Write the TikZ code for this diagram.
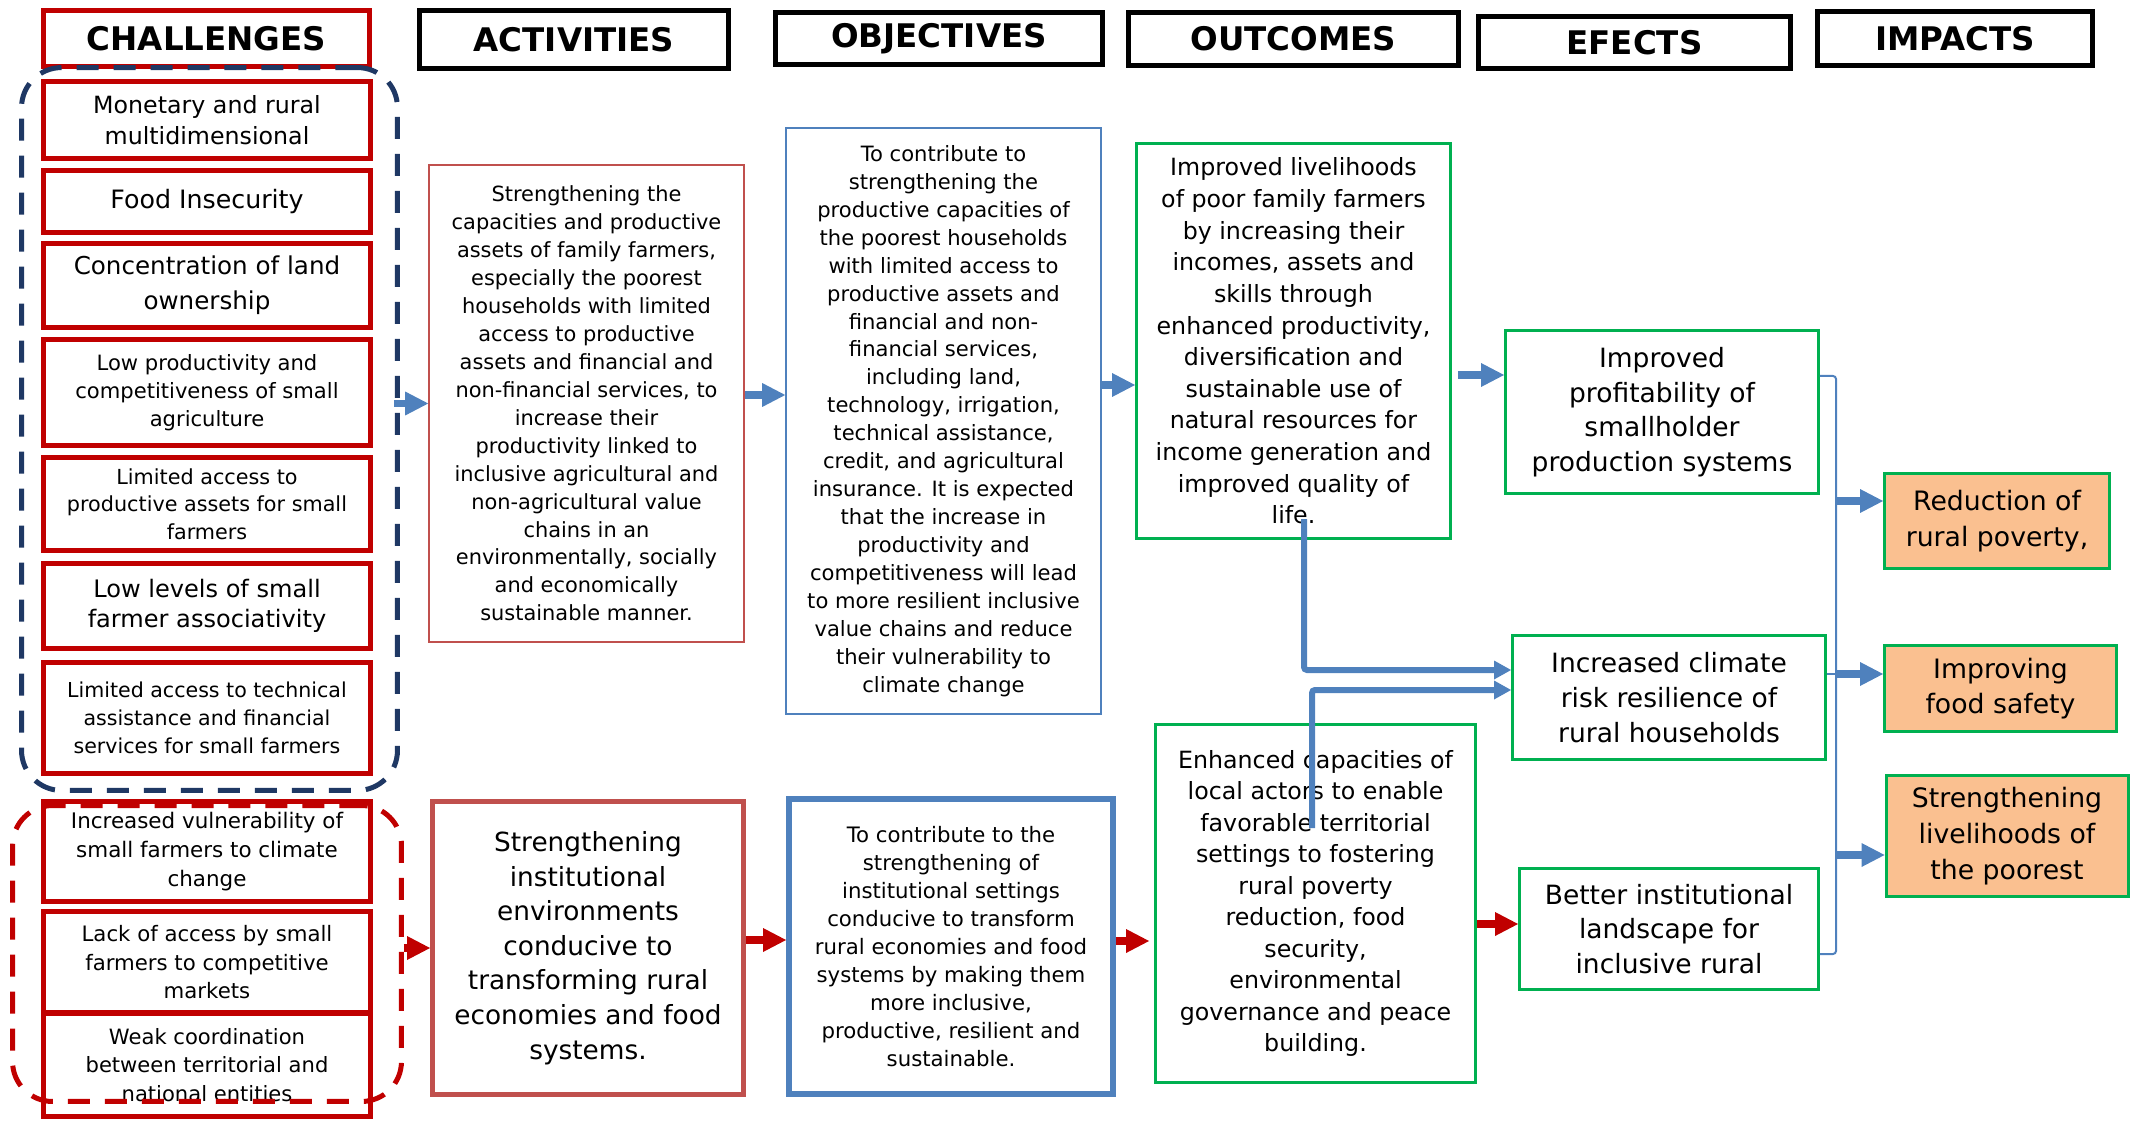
\documentclass[tikz,border=0pt]{standalone}
\usepackage{fontspec}
\setmainfont{DejaVu Sans}
\usepackage{tikz}
\usetikzlibrary{arrows.meta}
\definecolor{cRed}{HTML}{C00000}
\definecolor{cRedL}{HTML}{C0504D}
\definecolor{cBlue}{HTML}{4F81BD}
\definecolor{cNavy}{HTML}{1F3864}
\definecolor{cGreen}{HTML}{00B050}
\definecolor{cOrange}{HTML}{FAC090}

\begin{document}
\begin{tikzpicture}[x=0.02cm, y=-0.02cm,
    every node/.style={inner sep=0pt, align=center},
    hdr/.style={draw=black, line width=0.1cm, font=\fontsize{18.5}{22}\selectfont\bfseries},
    chal/.style={draw=cRed, line width=0.1cm, minimum width=6.54cm},
    grp/.style={line width=0.1cm, rounded corners=0.8cm, dash pattern=on 0.44cm off 0.3cm},
    effbox/.style={draw=cGreen, line width=0.05cm, font=\fontsize{15.1}{19.7}\selectfont},
    impbox/.style={draw=cGreen, line width=0.06cm, fill=cOrange, font=\fontsize{15.2}{20.3}\selectfont},
    barrow/.style={draw=cBlue, line width=0.16cm, -{Triangle[length=0.46cm, width=0.48cm, line width=0pt]}},
    rarrow/.style={draw=cRed, line width=0.16cm, -{Triangle[length=0.46cm, width=0.48cm, line width=0pt]}},
    link/.style={draw=cBlue, line width=0.12cm, rounded corners=0.06cm, -{Triangle[length=0.34cm, width=0.38cm, line width=0pt]}},
    busline/.style={draw=cBlue, line width=0.04cm, rounded corners=0.06cm}]
  \useasboundingbox (0,0) rectangle (2135,1121);

  % Encabezados
  \node[hdr, draw=cRed, minimum width=6.52cm, minimum height=1.12cm] (hChal) at (206.5,38.5) {CHALLENGES};
  \node[hdr, minimum width=6.18cm, minimum height=1.16cm] (hAct) at (574,39.5) {ACTIVITIES};
  \node[hdr, minimum width=6.54cm, minimum height=1.04cm] (hObj) at (939,38.5) {OBJECTIVES};
  \node[hdr, minimum width=6.6cm, minimum height=1.06cm] (hOut) at (1293.5,39) {OUTCOMES};
  \node[hdr, minimum width=6.24cm, minimum height=1.04cm] (hEff) at (1634.5,42.5) {EFECTS};
  \node[hdr, minimum width=5.5cm, minimum height=1.08cm] (hImp) at (1955,38.5) {IMPACTS};

  % Retos
  \node[chal, minimum height=1.54cm, font=\fontsize{13.5}{17.7}\selectfont] (c1) at (207,120) {Monetary and rural\\multidimensional};
  \node[chal, minimum height=1.24cm, font=\fontsize{14.4}{18}\selectfont] (c2) at (207,201.5) {Food Insecurity};
  \node[chal, minimum height=1.68cm, font=\fontsize{14}{19.9}\selectfont] (c3) at (207,285.5) {Concentration of land\\ownership};
  \node[chal, minimum height=2.12cm, font=\fontsize{12}{15.9}\selectfont] (c4) at (207,392.5) {Low productivity and\\competitiveness of small\\agriculture};
  \node[chal, minimum height=1.86cm, font=\fontsize{11.8}{15.7}\selectfont] (c5) at (207,504) {Limited access to\\productive assets for small\\farmers};
  \node[chal, minimum height=1.70cm, font=\fontsize{13.7}{17.3}\selectfont] (c6) at (207,606) {Low levels of small\\farmer associativity};
  \node[chal, minimum height=2.22cm, font=\fontsize{11.7}{15.9}\selectfont] (c7) at (207,718) {Limited access to technical\\assistance and financial\\services for small farmers};
  \node[chal, minimum height=2.0cm, font=\fontsize{12.2}{16.3}\selectfont] (c8) at (207,851.5) {Increased vulnerability of\\small farmers to climate\\change};
  \node[chal, minimum height=2.03cm, font=\fontsize{12.1}{16.3}\selectfont] (c9) at (207,962.25) {Lack of access by small\\farmers to competitive\\markets};
  \node[chal, minimum height=2.07cm, font=\fontsize{12}{16.2}\selectfont] (c10) at (207,1064.75) {Weak coordination\\between territorial and\\national entities};
  \node[grp, draw=cNavy, minimum width=7.52cm, minimum height=14.46cm] (grpA) at (209.5,429) {};
  \node[grp, draw=cRed, minimum width=7.78cm, minimum height=5.92cm] (grpB) at (207,953.5) {};

  % Cajas
  \node[draw=cRedL, line width=0.035cm, minimum width=6.3cm, minimum height=9.55cm, font=\fontsize{11.9}{15.9}\selectfont] (act1) at (586.5,403.5)
    {Strengthening the\\capacities and productive\\assets of family farmers,\\especially the poorest\\households with limited\\access to productive\\assets and financial and\\non-financial services, to\\increase their\\productivity linked to\\inclusive agricultural and\\non-agricultural value\\chains in an\\environmentally, socially\\and economically\\sustainable manner.};
  \node[draw=cBlue, line width=0.035cm, minimum width=6.3cm, minimum height=11.72cm, font=\fontsize{12}{15.9}\selectfont] (obj1) at (943.5,421)
    {To contribute to\\strengthening the\\productive capacities of\\the poorest households\\with limited access to\\productive assets and\\financial and non-\\financial services,\\including land,\\technology, irrigation,\\technical assistance,\\credit, and agricultural\\insurance. It is expected\\that the increase in\\productivity and\\competitiveness will lead\\to more resilient inclusive\\value chains and reduce\\their vulnerability to\\climate change};
  \node[draw=cGreen, line width=0.05cm, minimum width=6.29cm, minimum height=7.91cm, font=\fontsize{13.5}{18}\selectfont] (out1) at (1293.5,341)
    {Improved livelihoods\\of poor family farmers\\by increasing their\\incomes, assets and\\skills through\\enhanced productivity,\\diversification and\\sustainable use of\\natural resources for\\income generation and\\improved quality of\\life.};
  \node[effbox, minimum width=6.27cm, minimum height=3.27cm] (eff1) at (1662,412) {Improved\\profitability of\\smallholder\\production systems};
  \node[effbox, minimum width=6.27cm, minimum height=2.49cm] (eff2) at (1669,697.5) {Increased climate\\risk resilience of\\rural households};
  \node[effbox, minimum width=5.99cm, minimum height=2.43cm] (eff3) at (1669,929) {Better institutional\\landscape for\\inclusive rural};
  \node[impbox, minimum width=4.5cm, minimum height=1.9cm] (imp1) at (1997,521) {Reduction of\\rural poverty,};
  \node[impbox, minimum width=4.64cm, minimum height=1.72cm] (imp2) at (2000.5,688.5) {Improving\\food safety};
  \node[impbox, minimum width=4.84cm, minimum height=2.42cm] (imp3) at (2007,836) {Strengthening\\livelihoods of\\the poorest};
  \node[draw=cRedL, line width=0.1cm, minimum width=6.22cm, minimum height=5.86cm, font=\fontsize{15}{19.7}\selectfont] (act2) at (588,948)
    {Strengthening\\institutional\\environments\\conducive to\\transforming rural\\economies and food\\systems.};
  \node[draw=cBlue, line width=0.11cm, minimum width=6.49cm, minimum height=5.91cm, font=\fontsize{12.1}{15.9}\selectfont] (obj2) at (951,946.5)
    {To contribute to the\\strengthening of\\institutional settings\\conducive to transform\\rural economies and food\\systems by making them\\more inclusive,\\productive, resilient and\\sustainable.};
  \node[draw=cGreen, line width=0.05cm, minimum width=6.41cm, minimum height=7.17cm, font=\fontsize{13.5}{17.9}\selectfont] (out2) at (1315.5,903.5)
    {Enhanced capacities of\\local actors to enable\\favorable territorial\\settings to fostering\\rural poverty\\reduction, food\\security,\\environmental\\governance and peace\\building.};

  % Flechas
  \draw[barrow] ([xshift=-0.12cm]grpA.east |- act1.west) -- (act1.west);
  \draw[barrow] (act1.east |- 0,395) -- (obj1.west |- 0,395);
  \draw[barrow] (obj1.east |- 0,385) -- (out1.west |- 0,385);
  \draw[barrow, shorten <=0.12cm] (out1.east |- 0,375) -- (eff1.west |- 0,375);
  \draw[rarrow] (grpB.east |- act2.west) -- (act2.west);
  \draw[rarrow] (act2.east |- 0,940) -- (obj2.west |- 0,940);
  \draw[rarrow] (obj2.east |- 0,941) -- ([xshift=-0.1cm]out2.west |- 0,941);
  \draw[rarrow] (out2.east |- 0,924) -- (eff3.west |- 0,924);

  \coordinate (lk1) at (1304,519);
  \coordinate (lk2) at (1312,828);
  \draw[link] (lk1) |- (eff2.west |- 0,670);
  \draw[link] (lk2) |- (eff2.west |- 0,690);

  \coordinate (bus) at (1836,660);
  \draw[busline] (eff1.east |- 0,376) -- (bus |- 0,376) -- (bus |- 0,954) -- (eff3.east |- 0,954);
  \draw[busline] (eff2.east |- 0,674) -- (bus |- 0,674);
  \draw[barrow] (bus |- 0,501) -- (imp1.west |- 0,501);
  \draw[barrow] (bus |- 0,674) -- (imp2.west |- 0,674);
  \draw[barrow] (bus |- 0,855) -- (imp3.west |- 0,855);
\end{tikzpicture}
\end{document}
